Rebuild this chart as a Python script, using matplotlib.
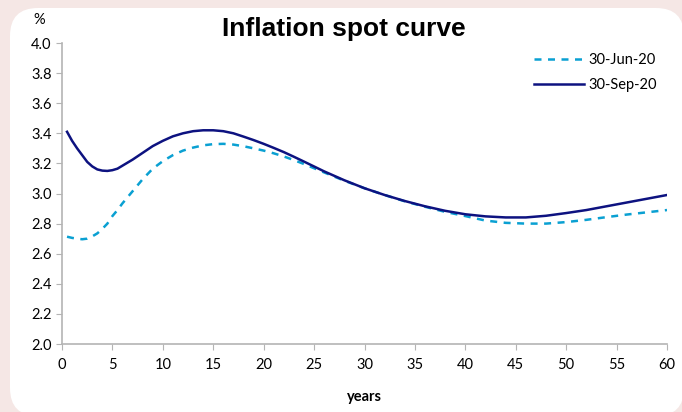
import numpy as np
import matplotlib.pyplot as plt
from matplotlib.patches import FancyBboxPatch
from matplotlib.transforms import IdentityTransform

# tenor in years
years = [0.5, 1, 1.5, 2, 2.5, 3, 3.5, 4, 4.5, 5, 5.5, 6, 7, 8, 9, 10, 11, 12, 13, 14, 15,
         16, 17, 18, 19, 20, 21, 22, 23, 24, 26, 28, 30, 32, 34, 36, 38, 40, 42, 44, 46,
         48, 50, 52, 54, 56, 58, 60]

jun20 = [2.713, 2.705, 2.70, 2.696, 2.70, 2.715, 2.735, 2.765, 2.80, 2.85, 2.89, 2.935,
         3.015, 3.095, 3.165, 3.215, 3.255, 3.285, 3.305, 3.32, 3.328,
         3.33, 3.325, 3.314, 3.30, 3.285, 3.267, 3.246, 3.222, 3.196, 3.14, 3.085, 3.035,
         2.99, 2.948, 2.912, 2.878, 2.85, 2.82, 2.805, 2.80,
         2.80, 2.81, 2.825, 2.843, 2.86, 2.875, 2.89]

sep20 = [3.41, 3.35, 3.30, 3.255, 3.21, 3.18, 3.16, 3.152, 3.15, 3.155, 3.165, 3.185,
         3.225, 3.27, 3.315, 3.35, 3.38, 3.40, 3.414, 3.42, 3.42,
         3.414, 3.40, 3.378, 3.355, 3.33, 3.303, 3.275, 3.244, 3.212, 3.147, 3.088, 3.035,
         2.99, 2.95, 2.915, 2.885, 2.862, 2.848, 2.841, 2.841,
         2.852, 2.87, 2.89, 2.915, 2.94, 2.965, 2.99]

plt.rcParams['font.family'] = ['Lato', 'DejaVu Sans']

W, H = 682, 412
fig = plt.figure(figsize=(W / 100, H / 100), dpi=100)
fig.patch.set_facecolor('#f5e7e5')

# white rounded panel, in pixels
panel = FancyBboxPatch((10, -4), 674, 408,
                       boxstyle='round,pad=0,rounding_size=28',
                       transform=IdentityTransform(), facecolor='white',
                       edgecolor='none', zorder=-10)
fig.patches.append(panel)

ax = fig.add_axes([62 / W, 1 - 344 / H, (667 - 62) / W, (344 - 43) / H])
ax.set_facecolor('none')
ax.set_zorder(5)

ax.plot(years, jun20, color='#0aa0d2', lw=1.8, ls=(0, (2.8, 2.6)), label='30-Jun-20')
ax.plot(years, sep20, color='#0d1280', lw=1.8, label='30-Sep-20')

ax.set_xlim(0, 60)
ax.set_ylim(2.0, 4.0)
ax.set_xticks(np.arange(0, 61, 5))
ax.set_yticks(np.arange(2.0, 4.01, 0.2))
ax.yaxis.set_major_formatter(plt.FormatStrFormatter('%.1f'))

for s in ['top', 'right']:
    ax.spines[s].set_visible(False)
for s in ['left', 'bottom']:
    ax.spines[s].set_color('#b4b4b4')
    ax.spines[s].set_linewidth(1.2)
ax.tick_params(colors='#b4b4b4', labelcolor='black', labelsize=10.5, length=4,
               direction='out')
ax.tick_params(axis='x', pad=6)

ax.set_xlabel('years', fontweight='bold', fontsize=10.5, labelpad=13)

fig.text(39 / W, 1 - 20 / H, '%', fontsize=10.5, ha='center', va='center')
fig.text(344 / W, 1 - 29 / H, 'Inflation spot curve', fontsize=19,
         fontweight='bold', ha='center', va='center', family='Liberation Sans')

ax.legend(loc='upper right', bbox_to_anchor=(1.005, 1.01), frameon=False,
          fontsize=10.5, handlelength=3.4, handletextpad=0.3, labelspacing=0.75)

fig.savefig('out.png', dpi=100, facecolor=fig.get_facecolor())
